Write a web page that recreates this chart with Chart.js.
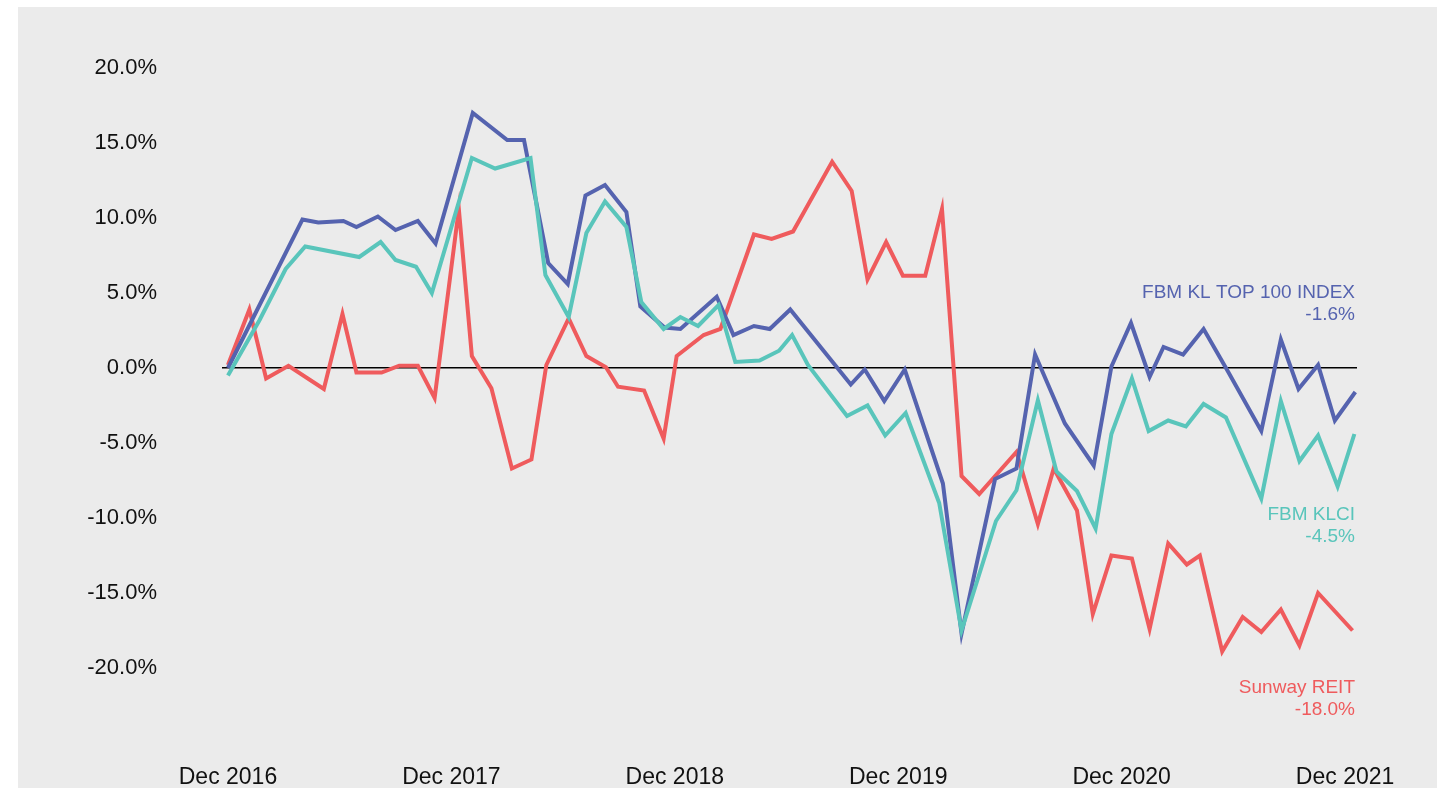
<!DOCTYPE html>
<html>
<head>
<meta charset="utf-8">
<script src="https://cdn.jsdelivr.net/npm/chart.js@4/dist/chart.umd.min.js"></script>
<style>
  html, body { margin: 0; padding: 0; background: #ffffff; }
  #bg { position: absolute; left: 18px; top: 7px; right: 0; bottom: 0; background: #ebebeb; }
  #chart { position: absolute; left: 0; top: 0; }
</style>
</head>
<body>
<div id="bg"></div>
<canvas id="chart" width="1437" height="788"></canvas>
<script>
// months since Dec 2016
const top100Month = [0, 4.0, 4.85, 6.2, 6.9, 8.05, 9.0, 10.2, 11.15, 13.15, 15.0, 15.9, 17.2, 18.25, 19.2, 20.25, 21.4, 22.15, 23.45, 24.3, 26.25, 27.15, 28.25, 29.1, 30.2, 33.45, 34.2, 35.25, 36.35, 38.4, 39.4, 41.2, 42.35, 43.35, 44.95, 46.5, 47.45, 48.5, 49.5, 50.25, 51.3, 52.4, 53.65, 55.5, 56.55, 57.5, 58.55, 59.45, 60.55];
const top100Value = [0.0, 9.9, 9.7, 9.8, 9.4, 10.1, 9.2, 9.8, 8.3, 17.0, 15.2, 15.2, 7.0, 5.6, 11.5, 12.2, 10.4, 4.1, 2.7, 2.6, 4.75, 2.2, 2.8, 2.6, 3.9, -1.1, -0.1, -2.2, -0.1, -7.7, -17.7, -7.4, -6.7, 0.9, -3.7, -6.5, 0.1, 3.0, -0.6, 1.4, 0.9, 2.6, -0.1, -4.2, 1.9, -1.4, 0.2, -3.5, -1.6];

const klciMonth = [0, 1.7, 3.1, 4.15, 7.05, 8.2, 9.0, 10.1, 10.95, 13.1, 14.35, 16.25, 17.05, 18.3, 19.25, 20.25, 21.4, 22.2, 23.4, 24.3, 25.25, 26.35, 27.25, 28.55, 29.6, 30.3, 31.15, 33.25, 34.35, 35.3, 36.4, 38.2, 39.4, 41.25, 42.35, 43.5, 44.5, 45.6, 46.6, 47.45, 48.55, 49.45, 50.5, 51.45, 52.4, 53.6, 55.5, 56.55, 57.55, 58.55, 59.6, 60.5];
const klciValue = [-0.5, 3.2, 6.6, 8.1, 7.4, 8.4, 7.2, 6.75, 5.0, 14.0, 13.3, 14.0, 6.2, 3.4, 9.0, 11.1, 9.4, 4.4, 2.6, 3.4, 2.8, 4.2, 0.4, 0.5, 1.15, 2.2, 0.2, -3.2, -2.5, -4.5, -3.0, -9.0, -17.5, -10.2, -8.15, -2.15, -6.9, -8.2, -10.7, -4.4, -0.7, -4.2, -3.5, -3.9, -2.4, -3.3, -8.7, -2.2, -6.2, -4.5, -7.9, -4.4];

const reitMonth = [0, 1.15, 2.05, 3.25, 5.15, 6.15, 6.9, 8.25, 9.2, 10.2, 11.1, 12.4, 13.1, 14.15, 15.25, 16.3, 17.1, 18.3, 19.25, 20.3, 20.95, 22.35, 23.4, 24.1, 25.55, 26.45, 28.25, 29.2, 30.35, 32.45, 33.5, 34.35, 35.35, 36.25, 37.45, 38.35, 39.4, 40.35, 42.35, 43.5, 44.35, 45.6, 46.45, 47.45, 48.55, 49.5, 50.5, 51.5, 52.2, 53.4, 54.5, 55.5, 56.55, 57.55, 58.55, 60.4];
const reitValue = [0.2, 3.9, -0.7, 0.15, -1.4, 3.6, -0.3, -0.3, 0.15, 0.15, -2.0, 10.6, 0.8, -1.35, -6.7, -6.1, 0.2, 3.3, 0.8, 0.05, -1.25, -1.5, -4.7, 0.8, 2.2, 2.6, 8.9, 8.6, 9.1, 13.75, 11.8, 5.9, 8.4, 6.15, 6.15, 10.6, -7.2, -8.4, -5.6, -10.4, -6.7, -9.5, -16.4, -12.5, -12.7, -17.4, -11.7, -13.1, -12.5, -18.9, -16.6, -17.6, -16.1, -18.5, -15.0, -17.5];

const tickMonths = [0, 12, 24, 36, 48, 60];
const tickLabels = ['Dec 2016', 'Dec 2017', 'Dec 2018', 'Dec 2019', 'Dec 2020', 'Dec 2021'];

const seriesNames = ['FBM KL TOP 100 INDEX', 'FBM KLCI', 'Sunway REIT'];
const seriesTotals = ['-1.6%', '-4.5%', '-18.0%'];

const BLUE = '#5563af';
const TEAL = '#59c5bb';
const RED = '#ef5b5d';

function toPoints(months, values) {
  return months.map((m, i) => ({ x: m, y: values[i] }));
}

// series names on the right, placed by value on the y scale
const endLabels = {
  id: 'endLabels',
  afterDatasetsDraw(chart) {
    const ctx = chart.ctx;
    const y = chart.scales.y;
    const right = 1355;
    const items = [
      { name: seriesNames[0], total: seriesTotals[0], color: BLUE, at: 5.0 },
      { name: seriesNames[1], total: seriesTotals[1], color: TEAL, at: -9.8 },
      { name: seriesNames[2], total: seriesTotals[2], color: RED, at: -21.3 }
    ];
    ctx.save();
    ctx.font = '19px "Liberation Sans", Arial, sans-serif';
    ctx.textAlign = 'right';
    ctx.textBaseline = 'middle';
    items.forEach(it => {
      const py = y.getPixelForValue(it.at);
      ctx.fillStyle = it.color;
      ctx.fillText(it.name, right, py);
      ctx.fillText(it.total, right, py + 22);
    });
    ctx.restore();
  }
};

new Chart(document.getElementById('chart'), {
  type: 'line',
  data: {
    datasets: [
      { label: seriesNames[1], data: toPoints(klciMonth, klciValue), borderColor: TEAL, order: 1 },
      { label: seriesNames[0], data: toPoints(top100Month, top100Value), borderColor: BLUE, order: 2 },
      { label: seriesNames[2], data: toPoints(reitMonth, reitValue), borderColor: RED, order: 3 }
    ]
  },
  options: {
    responsive: false,
    animation: false,
    devicePixelRatio: 1,
    layout: { padding: { top: 68, right: 80, left: 0, bottom: 0 } },
    elements: {
      line: { borderWidth: 4, tension: 0, borderJoinStyle: 'miter', fill: false },
      point: { radius: 0, hoverRadius: 0 }
    },
    plugins: {
      legend: { display: false },
      tooltip: { enabled: false }
    },
    scales: {
      x: {
        type: 'linear',
        min: -0.32,
        max: 60.64,
        border: { display: false },
        grid: { display: false },
        afterBuildTicks(scale) {
          scale.ticks = tickMonths.map(v => ({ value: v }));
        },
        afterFit(scale) {
          scale.height = 120;
          scale.paddingLeft = 0;
          scale.paddingRight = 0;
        },
        ticks: {
          padding: 88,
          maxRotation: 0,
          autoSkip: false,
          color: '#111111',
          font: { family: '"Liberation Sans Narrow", "Liberation Sans", Arial, sans-serif', size: 23 },
          callback(v) {
            const i = tickMonths.indexOf(v);
            return i >= 0 ? tickLabels[i] : '';
          }
        }
      },
      y: {
        min: -20,
        max: 20,
        border: { display: false },
        grid: {
          drawTicks: false,
          lineWidth: 1.5,
          color: ctx => (ctx.tick && ctx.tick.value === 0 ? '#000000' : 'rgba(0,0,0,0)')
        },
        afterFit(scale) {
          scale.width = 222;
          scale.paddingTop = 0;
          scale.paddingBottom = 0;
        },
        ticks: {
          stepSize: 5,
          padding: 65,
          color: '#111111',
          font: { family: '"Liberation Sans", Arial, sans-serif', size: 22 },
          callback: v => v.toFixed(1) + '%'
        }
      }
    }
  },
  plugins: [endLabels]
});
</script>
</body>
</html>
